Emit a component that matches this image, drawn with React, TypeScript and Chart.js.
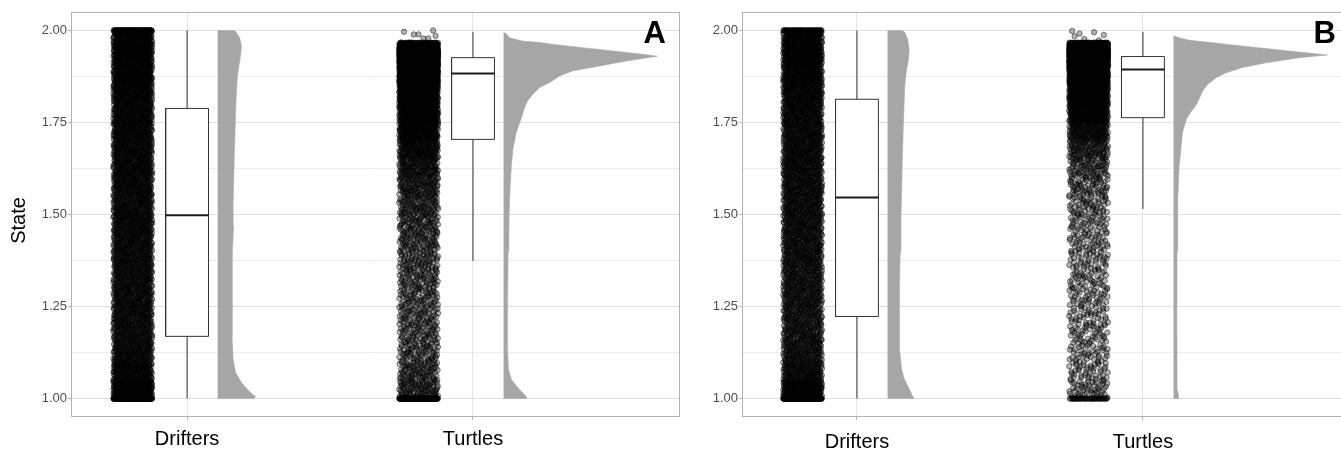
import React, { useEffect, useRef } from "react";
import { Chart, registerables } from "chart.js";

Chart.register(...registerables);

// ---------------- data ----------------
const categories = ["Drifters", "Turtles"];
const panelLabels = ["A", "B"];
const yMajorTicks = [1, 1.25, 1.5, 1.75, 2];
const yTickLabels = ["1.00", "1.25", "1.50", "1.75", "2.00"];
const yMinorGrid = [1.125, 1.375, 1.625, 1.875];
const yTitle = "State";

// box statistics: [lower whisker, Q1, median, Q3, upper whisker]
const boxDriftersA = [1.0, 1.169, 1.498, 1.788, 2.0];
const boxTurtlesA = [1.374, 1.704, 1.883, 1.926, 1.996];
const boxDriftersB = [1.0, 1.223, 1.546, 1.813, 2.0];
const boxTurtlesB = [1.515, 1.763, 1.894, 1.929, 1.996];

// half-violin density profiles (state value -> density)
const violinYDriftersA = [1.0, 1.005, 1.016, 1.03, 1.043, 1.071, 1.106, 1.168, 1.261, 1.397, 1.468, 1.533, 1.668, 1.804, 1.876, 1.921, 1.957, 1.98, 1.993, 2.0];
const violinDensityDriftersA = [2.05, 2.16, 1.88, 1.6, 1.36, 1.02, 0.88, 0.82, 0.82, 0.85, 0.91, 0.88, 0.95, 1.04, 1.12, 1.27, 1.36, 1.25, 1.08, 0.95];

const violinYTurtlesA = [1.0, 1.005, 1.016, 1.03, 1.052, 1.08, 1.13, 1.27, 1.4, 1.46, 1.54, 1.58, 1.63, 1.677, 1.723, 1.772, 1.79, 1.808, 1.826, 1.845, 1.858, 1.876, 1.89, 1.903, 1.917, 1.93, 1.935, 1.944, 1.953, 1.962, 1.967, 1.971, 1.98, 1.993];
const violinDensityTurtlesA = [1.31, 1.31, 1.08, 0.8, 0.44, 0.28, 0.23, 0.23, 0.26, 0.3, 0.34, 0.38, 0.44, 0.53, 0.72, 1.08, 1.19, 1.36, 1.65, 2.05, 2.61, 3.18, 3.92, 5.45, 6.99, 8.75, 7.95, 6.25, 4.55, 2.84, 2.1, 1.08, 0.34, 0.11];

const violinYDriftersB = [1.0, 1.007, 1.026, 1.053, 1.08, 1.126, 1.216, 1.305, 1.398, 1.488, 1.577, 1.669, 1.758, 1.849, 1.894, 1.921, 1.948, 1.976, 1.993, 2.0];
const violinDensityDriftersB = [1.52, 1.42, 1.23, 0.95, 0.8, 0.7, 0.66, 0.7, 0.72, 0.76, 0.81, 0.85, 0.91, 0.98, 1.08, 1.19, 1.23, 1.14, 1.0, 0.85];

const violinYTurtlesB = [1.0, 1.007, 1.02, 1.05, 1.2, 1.4, 1.541, 1.631, 1.723, 1.76, 1.781, 1.799, 1.817, 1.835, 1.853, 1.872, 1.885, 1.899, 1.912, 1.926, 1.933, 1.937, 1.944, 1.953, 1.962, 1.967, 1.973, 1.98, 1.985];
const violinDensityTurtlesB = [0.28, 0.28, 0.24, 0.2, 0.19, 0.2, 0.24, 0.32, 0.51, 0.74, 1.02, 1.31, 1.48, 1.65, 1.93, 2.44, 3.01, 3.92, 5.28, 7.16, 8.75, 8.0, 6.6, 4.83, 3.07, 2.16, 0.91, 0.3, 0.06];

// jittered raw points: number of observations per state bin
const pointBinEdges = [1.0, 1.05, 1.1, 1.15, 1.2, 1.25, 1.3, 1.35, 1.4, 1.45, 1.5, 1.55, 1.6, 1.65, 1.7, 1.75, 1.8, 1.85, 1.9, 1.925, 1.95, 1.967, 2.0];
const pointCountsDriftersA = [300, 200, 172, 165, 165, 165, 166, 168, 172, 178, 176, 178, 185, 190, 195, 200, 212, 230, 127, 133, 92, 150];
const pointCountsTurtlesA = [105, 90, 75, 72, 72, 72, 74, 78, 84, 90, 102, 118, 140, 180, 235, 300, 400, 700, 600, 800, 300, 8];
const pointCountsDriftersB = [260, 165, 140, 135, 135, 140, 142, 145, 148, 152, 156, 162, 166, 170, 176, 182, 195, 215, 118, 122, 82, 140];
const pointCountsTurtlesB = [52, 44, 42, 42, 42, 42, 43, 44, 45, 47, 54, 64, 80, 110, 165, 240, 340, 600, 640, 820, 420, 7];
// observations exactly at the bounds [state = 1.00, state = 2.00]
const boundCountsDriftersA = [200, 80];
const boundCountsTurtlesA = [150, 0];
const boundCountsDriftersB = [150, 50];
const boundCountsTurtlesB = [40, 0];

// ---------------- styling / layout ----------------
const FONT = "'Liberation Sans', Arial, Helvetica, sans-serif";
const POINT_OFFSET = -0.19;
const JITTER = 0.068;
const BOX_HALF = 0.075;
const VIOLIN_OFFSET = 0.107;
const VIOLIN_SCALE = 0.0615;
const Y_MIN = 0.95;
const Y_MAX = 2.05;

// Halton radical inverse: an even, deterministic jitter layout
const radicalInverse = (k: number, base: number) => {
  let f = 1;
  let r = 0;
  let n = k;
  while (n > 0) {
    f /= base;
    r += f * (n % base);
    n = Math.floor(n / base);
  }
  return r;
};

type Group = {
  box: number[];
  vy: number[];
  vd: number[];
  counts: number[];
  bounds: number[];
};

function cloud(pos: number, counts: number[], bounds: number[]) {
  const pts: { x: number; y: number }[] = [];
  let k = 17;
  const place = (lo: number, hi: number) => {
    k += 1;
    const u = radicalInverse(k, 2);
    const v = radicalInverse(k, 3);
    pts.push({ x: pos + POINT_OFFSET + (2 * u - 1) * JITTER, y: lo + v * (hi - lo) });
  };
  for (let j = 0; j < bounds[0]; j++) place(1, 1);
  counts.forEach((n, i) => {
    for (let j = 0; j < n; j++) place(pointBinEdges[i], pointBinEdges[i + 1]);
  });
  for (let j = 0; j < bounds[1]; j++) place(2, 2);
  return pts;
}

function buildDatasets(groups: Group[]) {
  const medians: any[] = [];
  const boxes: any[] = [];
  const whiskers: any[] = [];
  const violins: any[] = [];
  const clouds: any[] = [];
  const line = { showLine: true, pointRadius: 0, pointHoverRadius: 0, tension: 0 };
  groups.forEach((g, i) => {
    const pos = i + 1;
    const [lo, q1, med, q3, hi] = g.box;
    const x0 = pos - BOX_HALF;
    const x1 = pos + BOX_HALF;
    medians.push({
      ...line,
      data: [{ x: x0, y: med }, { x: x1, y: med }],
      borderColor: "#1a1a1a",
      borderWidth: 2,
      fill: false,
    });
    boxes.push({
      ...line,
      data: [
        { x: x0, y: q1 },
        { x: x1, y: q1 },
        { x: x1, y: q3 },
        { x: x0, y: q3 },
        { x: x0, y: q1 },
      ],
      borderColor: "#333333",
      borderWidth: 1,
      backgroundColor: "#ffffff",
      fill: "shape",
    });
    whiskers.push({
      ...line,
      data: [{ x: pos, y: lo }, { x: pos, y: q1 }],
      borderColor: "#333333",
      borderWidth: 1,
      fill: false,
    });
    whiskers.push({
      ...line,
      data: [{ x: pos, y: q3 }, { x: pos, y: hi }],
      borderColor: "#333333",
      borderWidth: 1,
      fill: false,
    });
    const base = pos + VIOLIN_OFFSET;
    violins.push({
      ...line,
      data: [
        { x: base, y: g.vy[0] },
        ...g.vy.map((y, j) => ({ x: base + g.vd[j] * VIOLIN_SCALE, y })),
        { x: base, y: g.vy[g.vy.length - 1] },
      ],
      borderColor: "#a6a6a6",
      borderWidth: 0.5,
      backgroundColor: "#a6a6a6",
      fill: "shape",
    });
    clouds.push({
      data: cloud(pos, g.counts, g.bounds),
      pointRadius: 2.7,
      pointHoverRadius: 2.7,
      backgroundColor: "rgba(0,0,0,0.3)",
      borderColor: "rgba(0,0,0,0.55)",
      borderWidth: 0.8,
    });
  });
  // first dataset is drawn on top
  return [...medians, ...boxes, ...whiskers, ...violins, ...clouds];
}

type Panel = {
  label: string;
  xMin: number;
  xMax: number;
  yAxisWidth: number;
  showTitle: boolean;
  xLabelPad: number;
  groups: Group[];
};

const panelA: Panel = {
  label: panelLabels[0],
  xMin: 0.594,
  xMax: 2.724,
  yAxisWidth: 71,
  showTitle: true,
  xLabelPad: 7,
  groups: [
    { box: boxDriftersA, vy: violinYDriftersA, vd: violinDensityDriftersA, counts: pointCountsDriftersA, bounds: boundCountsDriftersA },
    { box: boxTurtlesA, vy: violinYTurtlesA, vd: violinDensityTurtlesA, counts: pointCountsTurtlesA, bounds: boundCountsTurtlesA },
  ],
};

const panelB: Panel = {
  label: panelLabels[1],
  xMin: 0.598,
  xMax: 2.724,
  yAxisWidth: 52,
  showTitle: false,
  xLabelPad: 10,
  groups: [
    { box: boxDriftersB, vy: violinYDriftersB, vd: violinDensityDriftersB, counts: pointCountsDriftersB, bounds: boundCountsDriftersB },
    { box: boxTurtlesB, vy: violinYTurtlesB, vd: violinDensityTurtlesB, counts: pointCountsTurtlesB, bounds: boundCountsTurtlesB },
  ],
};

const isMajor = (v: number) => yMajorTicks.indexOf(v) >= 0;

function makeConfig(panel: Panel): any {
  const framePlugin = {
    id: "panelFrame" + panel.label,
    afterDraw(chart: any) {
      const { ctx, chartArea: a } = chart;
      ctx.save();
      ctx.strokeStyle = "#b3b3b3";
      ctx.lineWidth = 1;
      ctx.strokeRect(Math.round(a.left) + 0.5, Math.round(a.top) + 0.5, Math.round(a.right - a.left) - 1, Math.round(a.bottom - a.top) - 1);
      ctx.fillStyle = "#000000";
      ctx.font = "bold 31px " + FONT;
      ctx.textAlign = "right";
      ctx.textBaseline = "alphabetic";
      ctx.fillText(panel.label, a.right - 14, a.top + 31);
      if (panel.showTitle) {
        ctx.translate(19, a.top + (a.bottom - a.top) / 2 + 6);
        ctx.rotate(-Math.PI / 2);
        ctx.font = "20px " + FONT;
        ctx.textAlign = "center";
        ctx.textBaseline = "middle";
        ctx.fillText(yTitle, 0, 0);
      }
      ctx.restore();
    },
  };
  const yGrid = [...yMinorGrid, ...yMajorTicks].sort((p, q) => p - q);
  return {
    type: "scatter",
    data: { datasets: buildDatasets(panel.groups) },
    options: {
      animation: false,
      responsive: false,
      maintainAspectRatio: false,
      events: [],
      layout: { padding: { left: 0, right: 10, top: 12, bottom: 0 } },
      plugins: { legend: { display: false }, tooltip: { enabled: false } },
      scales: {
        x: {
          type: "linear",
          min: panel.xMin,
          max: panel.xMax,
          afterBuildTicks: (s: any) => {
            s.ticks = categories.map((_, i) => ({ value: i + 1 }));
          },
          afterFit: (s: any) => {
            s.height = 33;
          },
          ticks: {
            autoSkip: false,
            maxRotation: 0,
            padding: panel.xLabelPad,
            color: "#000000",
            font: { family: FONT, size: 20 },
            callback: (v: number) => categories[Math.round(v) - 1],
          },
          grid: { color: "#e4e4e4", lineWidth: 1, tickColor: "#b3b3b3", tickLength: 3 },
          border: { display: false },
        },
        y: {
          type: "linear",
          min: Y_MIN,
          max: Y_MAX,
          afterBuildTicks: (s: any) => {
            s.ticks = yGrid.map((v) => ({ value: v }));
          },
          afterFit: (s: any) => {
            s.width = panel.yAxisWidth;
          },
          ticks: {
            autoSkip: false,
            padding: 1,
            color: "#4d4d4d",
            font: { family: FONT, size: 13 },
            callback: (v: number) => {
              const i = yMajorTicks.indexOf(v);
              return i >= 0 ? yTickLabels[i] : "";
            },
          },
          grid: {
            lineWidth: 1,
            tickLength: 3,
            color: (c: any) => (c.tick && isMajor(c.tick.value) ? "#e0e0e0" : "#ececec"),
            tickColor: (c: any) => (c.tick && isMajor(c.tick.value) ? "#b3b3b3" : "rgba(0,0,0,0)"),
          },
          border: { display: false },
        },
      },
    },
    plugins: [framePlugin],
  };
}

export default function App() {
  const refA = useRef<HTMLCanvasElement>(null);
  const refB = useRef<HTMLCanvasElement>(null);
  useEffect(() => {
    const charts = [new Chart(refA.current as HTMLCanvasElement, makeConfig(panelA)), new Chart(refB.current as HTMLCanvasElement, makeConfig(panelB))];
    return () => charts.forEach((c) => c.destroy());
  }, []);
  return (
    <div style={{ position: "absolute", left: 0, top: 0, width: 1341, height: 450, overflow: "hidden", background: "#ffffff" }}>
      <canvas ref={refA} width={690} height={450} style={{ position: "absolute", left: 0, top: 0, width: 690, height: 450 }} />
      <canvas ref={refB} width={670} height={450} style={{ position: "absolute", left: 690, top: 0, width: 670, height: 450 }} />
    </div>
  );
}
